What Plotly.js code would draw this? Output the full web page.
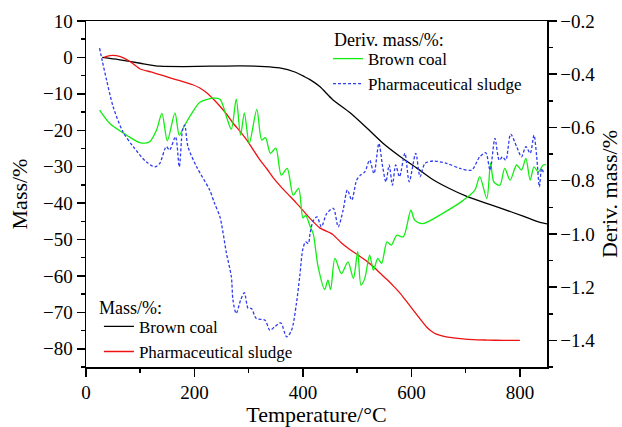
<!DOCTYPE html>
<html>
<head>
<meta charset="utf-8">
<script src="https://cdn.plot.ly/plotly-3.0.1.min.js"></script>
<style>html,body{margin:0;padding:0;background:#fff;}#chart{width:622px;height:427px;}</style>
</head>
<body>
<div id="chart"></div>
<script>
// Brown coal mass (%)
const bcMassT = [30, 60, 100, 136, 180, 230, 284, 330, 357, 385, 403, 413, 431, 455, 487, 518, 547, 579, 610, 640, 670, 701, 733, 763, 806, 837, 850];
const bcMass  = [0, -0.6, -1.6, -2.4, -2.5, -2.4, -2.3, -2.5, -2.9, -4.0, -5.3, -6.1, -8, -11.6, -15.2, -19.4, -23.5, -27.2, -30.4, -33.6, -36.0, -38.1, -39.8, -41.3, -43.6, -45.3, -45.7];

// Pharmaceutical sludge mass (%)
const psMassT = [33, 44, 62, 81, 99, 120, 136, 155, 173, 197, 210, 223, 235, 247, 260, 271, 284, 296, 308, 320, 333, 345, 360, 376, 388, 400, 413, 431, 455, 470, 487, 503, 518, 530, 542, 555, 567, 579, 591, 603, 616, 628, 637, 646, 660, 677, 695, 714, 740, 770, 800];
const psMass  = [0, 0.5, 0.3, -1.1, -3.1, -4.0, -4.7, -5.6, -6.4, -7.5, -8.4, -9.8, -11.5, -13.4, -15.7, -18, -20.3, -22.6, -25.3, -28, -30.5, -33, -35.6, -38.1, -40.0, -42.0, -44.2, -46.8, -48.6, -50.8, -52.8, -54.4, -56, -57.5, -59.2, -61.0, -62.8, -64.7, -67.0, -69.3, -71.8, -74.0, -75.2, -76.0, -76.6, -77.0, -77.3, -77.5, -77.6, -77.7, -77.7];

// Brown coal derivative mass (%)
const bcDerivT = [25, 44, 75, 99, 117, 130, 140, 150, 164, 172, 181, 195, 210, 234, 247, 259, 268, 277, 285, 292, 301, 315, 324, 331, 340, 350, 360, 371, 382, 392, 400, 405, 413, 419, 428, 440, 446, 451, 459, 471, 483, 493, 501, 507, 514, 523, 530, 538, 545, 555, 563, 573, 585, 599, 606, 621, 660, 696, 717, 726, 739, 746, 752, 763, 772, 782, 794, 803, 811, 819, 826, 834, 843, 848];
const bcDeriv  = [-0.535, -0.585, -0.629, -0.657, -0.654, -0.61, -0.547, -0.65, -0.545, -0.629, -0.595, -0.547, -0.505, -0.49, -0.494, -0.56, -0.607, -0.494, -0.629, -0.545, -0.66, -0.532, -0.647, -0.638, -0.697, -0.678, -0.779, -0.754, -0.854, -0.829, -0.94, -0.93, -0.97, -1.0, -1.124, -1.209, -1.174, -1.209, -1.092, -1.149, -1.105, -1.167, -1.067, -1.192, -1.167, -1.08, -1.136, -1.092, -1.111, -1.03, -1.042, -1.005, -1.011, -0.911, -0.948, -0.961, -0.92, -0.873, -0.835, -0.785, -0.867, -0.733, -0.804, -0.817, -0.754, -0.798, -0.741, -0.76, -0.716, -0.798, -0.748, -0.767, -0.741, -0.74];

// Pharmaceutical sludge derivative mass (%)
const psDerivT = [25, 30, 38, 50, 68, 87, 111, 127, 136, 148, 154, 165, 172, 178, 182, 188, 204, 228, 237, 247, 259, 268, 271, 277, 285, 292, 299, 305, 314, 330, 339, 348, 359, 370, 379, 388, 394, 400, 405, 410, 413, 419, 426, 434, 444, 456, 465, 474, 482, 490, 499, 506, 514, 523, 531, 540, 547, 553, 559, 565, 571, 578, 588, 596, 608, 616, 625, 640, 665, 690, 711, 726, 737, 745, 754, 762, 768, 774, 783, 794, 803, 811, 819, 826, 831, 836, 840, 844];
const psDeriv  = [-0.302, -0.35, -0.422, -0.522, -0.616, -0.672, -0.729, -0.748, -0.735, -0.672, -0.685, -0.635, -0.748, -0.61, -0.591, -0.672, -0.748, -0.835, -0.885, -0.936, -1.073, -1.161, -1.249, -1.299, -1.249, -1.221, -1.28, -1.28, -1.318, -1.324, -1.362, -1.349, -1.334, -1.387, -1.362, -1.261, -1.161, -1.055, -1.03, -1.036, -1.0, -0.95, -0.936, -0.973, -0.923, -0.904, -0.973, -0.911, -0.835, -0.873, -0.798, -0.779, -0.767, -0.723, -0.773, -0.66, -0.748, -0.804, -0.741, -0.817, -0.741, -0.785, -0.697, -0.804, -0.697, -0.785, -0.735, -0.726, -0.735, -0.754, -0.76, -0.71, -0.695, -0.76, -0.641, -0.723, -0.71, -0.723, -0.625, -0.672, -0.71, -0.672, -0.697, -0.629, -0.71, -0.823, -0.754, -0.773];

const seriesNames = ['Brown coal', 'Pharmaceutical sludge'];
const legendTitles = ['Deriv. mass/%:', 'Mass/%:'];
const xTicks = [0, 200, 400, 600, 800];

const FONT = 'Liberation Serif';

const traces = [
  {x: bcDerivT, y: bcDeriv, name: seriesNames[0], yaxis: 'y2', mode: 'lines', legend: 'legend',
   line: {color: '#11ee11', width: 1.3, shape: 'spline', smoothing: 0.8}},
  {x: psDerivT, y: psDeriv, name: seriesNames[1], yaxis: 'y2', mode: 'lines', legend: 'legend',
   line: {color: '#2f3cf0', width: 1.3, dash: '3px,2px', shape: 'spline', smoothing: 0.8}},
  {x: bcMassT, y: bcMass, name: seriesNames[0], yaxis: 'y', mode: 'lines', legend: 'legend2',
   line: {color: '#000000', width: 1.3, shape: 'spline', smoothing: 0.6}},
  {x: psMassT, y: psMass, name: seriesNames[1], yaxis: 'y', mode: 'lines', legend: 'legend2',
   line: {color: '#ee1111', width: 1.3, shape: 'spline', smoothing: 0.6}}
];

const tickStyle = {ticks: 'outside', ticklen: 8, tickwidth: 1.5, tickcolor: '#000',
  showline: true, linewidth: 1.5, linecolor: '#000', showgrid: false, zeroline: false,
  tickfont: {family: FONT, size: 19, color: '#000'}};

const layout = {
  width: 622, height: 427,
  margin: {l: 86, r: 75, t: 21, b: 60},
  paper_bgcolor: '#fff', plot_bgcolor: '#fff',
  font: {family: FONT, size: 18, color: '#000'},
  showlegend: true,
  xaxis: Object.assign({}, tickStyle, {
    range: [0, 850], tickvals: xTicks, mirror: true,
    minor: {dtick: 100, tick0: 0, ticks: 'outside', ticklen: 4, tickwidth: 1.5, tickcolor: '#000'},
    title: {text: 'Temperature/°C', font: {family: FONT, size: 22, color: '#000'}, standoff: 20}
  }),
  yaxis: Object.assign({}, tickStyle, {
    range: [-85, 10], dtick: 10, tick0: 0,
    minor: {dtick: 5, tick0: 0, ticks: 'outside', ticklen: 4, tickwidth: 1.5, tickcolor: '#000'},
    title: {text: 'Mass/%', font: {family: FONT, size: 22, color: '#000'}, standoff: 9}
  }),
  yaxis2: Object.assign({}, tickStyle, {
    overlaying: 'y', side: 'right',
    range: [-1.5, -0.2], dtick: 0.2, tick0: -0.2, tickformat: '.1f',
    minor: {dtick: 0.1, tick0: -0.2, ticks: 'outside', ticklen: 4, tickwidth: 1.5, tickcolor: '#000'},
    title: {text: 'Deriv. mass/%', font: {family: FONT, size: 22, color: '#000'}, standoff: 12}
  }),
  legend: {
    x: 0.525, y: 0.942, xanchor: 'left', yanchor: 'top',
    bgcolor: 'rgba(0,0,0,0)', borderwidth: 0,
    font: {family: FONT, size: 17, color: '#000'}, tracegroupgap: 0
  },
  legend2: {
    x: 0.028, y: 0.168, xanchor: 'left', yanchor: 'top',
    bgcolor: 'rgba(0,0,0,0)', borderwidth: 0,
    font: {family: FONT, size: 17, color: '#000'}, tracegroupgap: 0
  },
  annotations: [
    {text: legendTitles[0], xref: 'paper', yref: 'paper', x: (332 - 86) / 461, y: (367 - 40) / 346,
     xanchor: 'left', yanchor: 'middle', showarrow: false, font: {family: FONT, size: 18, color: '#000'}},
    {text: legendTitles[1], xref: 'paper', yref: 'paper', x: (97 - 86) / 461, y: (367 - 308) / 346,
     xanchor: 'left', yanchor: 'middle', showarrow: false, font: {family: FONT, size: 18, color: '#000'}}
  ]
};

Plotly.newPlot('chart', traces, layout, {displayModeBar: false, staticPlot: true});
</script>
</body>
</html>
